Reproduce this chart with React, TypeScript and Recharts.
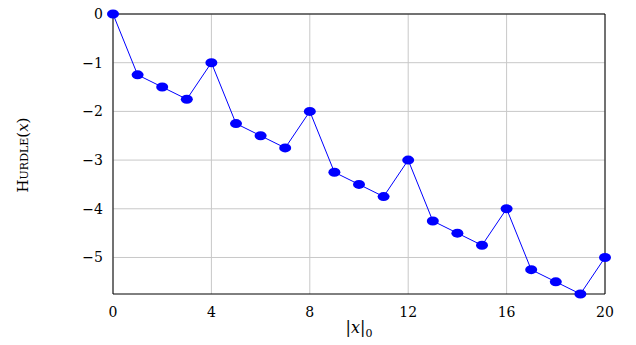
import React from "react";
import { LineChart, Line, XAxis, YAxis, CartesianGrid, ReferenceLine } from "recharts";

const xs = [0, 1, 2, 3, 4, 5, 6, 7, 8, 9, 10, 11, 12, 13, 14, 15, 16, 17, 18, 19, 20];
const hurdle = [
  0, -1.25, -1.5, -1.75, -1, -2.25, -2.5, -2.75, -2, -3.25, -3.5, -3.75, -3, -4.25, -4.5, -4.75, -4, -5.25, -5.5,
  -5.75, -5,
];
const xTicks = [0, 4, 8, 12, 16, 20];
const yTicks = [0, -1, -2, -3, -4, -5];

const data = xs.map((x, i) => ({ x, y: hurdle[i] }));

const FONT = "'DejaVu Serif', serif";

const Dot = (props: any) => {
  const { cx, cy } = props;
  if (cx == null || cy == null) return null;
  return <ellipse cx={cx} cy={cy} rx={6} ry={4.5} fill="#0000ff" />;
};

const XTick = (props: any) => {
  const { x, y, payload } = props;
  return (
    <text x={x} y={y + 15} textAnchor="middle" fontFamily={FONT} fontSize={14} fill="#000">
      {payload.value}
    </text>
  );
};

const YTick = (props: any) => {
  const { x, y, payload } = props;
  return (
    <text x={x} y={y + 5} textAnchor="end" fontFamily={FONT} fontSize={14} fill="#000">
      {String(payload.value).replace("-", "\u2212")}
    </text>
  );
};

function App() {
  return (
    <div style={{ margin: -8 }}>
      <LineChart width={636} height={345} data={data} margin={{ top: 14, right: 31, bottom: 21, left: 53 }}>
        <CartesianGrid stroke="#c8c8c8" strokeWidth={1} horizontalValues={yTicks} verticalValues={xTicks} />
        <XAxis
          dataKey="x"
          type="number"
          domain={[0, 20]}
          ticks={xTicks}
          height={30}
          axisLine={{ stroke: "#000" }}
          tickLine={false}
          tick={<XTick />}
          tickMargin={2}
          label={(p: any) => {
            const vb = p.viewBox;
            return (
              <text x={vb.x + vb.width / 2} y={333} textAnchor="middle" fontFamily={FONT} fontSize={16} fill="#000">
                |<tspan fontStyle="italic">x</tspan>|<tspan fontSize={11} dy={4}>0</tspan>
              </text>
            );
          }}
        />
        <YAxis
          type="number"
          domain={[-5.75, 0]}
          ticks={yTicks}
          width={60}
          axisLine={{ stroke: "#000" }}
          tickLine={false}
          tick={<YTick />}
          tickMargin={4}
          label={() => (
            <text
              x={28}
              y={155}
              transform="rotate(-90 28 155)"
              textAnchor="middle"
              fontFamily={FONT}
              fontSize={15}
              fill="#000"
            >
              <tspan style={{ fontVariant: "small-caps" }}>Hurdle</tspan>(<tspan fontStyle="italic">x</tspan>)
            </text>
          )}
        />
        <ReferenceLine y={0} stroke="#000" />
        <ReferenceLine x={20} stroke="#000" />
        <Line
          type="linear"
          dataKey="y"
          stroke="#0000ff"
          strokeWidth={1}
          dot={<Dot />}
          activeDot={false}
          isAnimationActive={false}
        />
      </LineChart>
    </div>
  );
}

export default App;
